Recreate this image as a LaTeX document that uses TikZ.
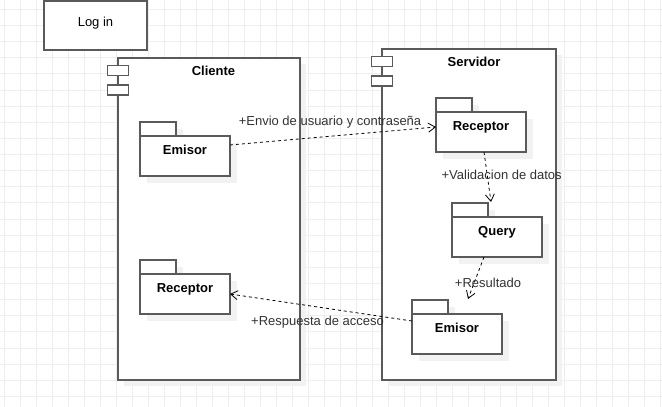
\documentclass[tikz,border=0pt]{standalone}
\usepackage{fontspec}
\setmainfont{Liberation Sans}
\usetikzlibrary{positioning, arrows.meta, shadows}
\definecolor{GridGray}{RGB}{238,238,238}
\definecolor{EdgeGray}{RGB}{90,90,90}
\definecolor{ShadowGray}{RGB}{242,242,242}
\definecolor{TextGray}{RGB}{51,51,51}

\begin{document}
\begin{tikzpicture}[x=1pt,y=1pt,
    gridline/.style={GridGray, line width=0.8pt},
    boxline/.style={draw=EdgeGray, line width=1.4pt, fill=white, inner sep=0pt, outer sep=0pt},
    softshadow/.style={drop shadow={shadow xshift=#1, shadow yshift=-#1, fill=ShadowGray, opacity=1}},
    comp/.style={boxline, softshadow=6pt, anchor=south west},
    compicon/.style={boxline, line width=1.2pt, minimum width=21pt, minimum height=10pt},
    comptitle/.style={font=\bfseries\fontsize{13}{15}\selectfont, text height=9.3pt, text depth=0pt, inner sep=0pt},
    pkgtab/.style={boxline, softshadow=7pt, minimum width=36pt, minimum height=14pt, anchor=south west},
    pkgbody/.style={boxline, softshadow=7pt, minimum width=90pt, minimum height=40pt,
      font=\bfseries\fontsize{13}{15}\selectfont, text height=9.3pt, text depth=12pt},
    msg/.style={dash pattern=on 3pt off 3pt, line width=0.8pt, -{Straight Barb[length=7pt,width=9pt]}},
    msglabel/.style={TextGray, font=\fontsize{13}{15}\selectfont, text height=9.3pt, text depth=0pt, inner sep=0pt}]
  \useasboundingbox (0,0) rectangle (662,407);

  \foreach \k in {0,...,41}
    \draw[gridline] ({4+16*\k},0) -- ({4+16*\k},407);
  \foreach \k in {0,...,24}
    \draw[gridline] (0,{397.7-16.13*\k}) -- (662,{397.7-16.13*\k});

  \node[boxline, minimum width=103pt, minimum height=49pt, anchor=south west,
    font=\fontsize{13}{15}\selectfont, text height=9.3pt, text depth=8pt] (login) at (44,357) {Log in\hspace{9pt}};

  \node[comp, minimum width=182pt, minimum height=322pt] (cliente) at (118,27) {};
  \node[compicon] (clienteIconA) at ([yshift=-12.5pt]cliente.north west) {};
  \node[compicon] (clienteIconB) at ([yshift=-32pt]cliente.north west) {};
  \node[comptitle] (clienteTitle) at ([shift={(4.5pt,-13pt)}]cliente.north) {Cliente};

  \node[comp, minimum width=174pt, minimum height=331pt] (servidor) at (382,27) {};
  \node[compicon] (servidorIconA) at ([yshift=-12.5pt]servidor.north west) {};
  \node[compicon] (servidorIconB) at ([yshift=-32pt]servidor.north west) {};
  \node[comptitle] (servidorTitle) at ([shift={(5pt,-13pt)}]servidor.north) {Servidor};

  \foreach \name/\x/\y/\txt in {emisorC/140/271/Emisor, receptorC/140/133/Receptor,
      receptorS/436/295/Receptor, query/452/190/Query, emisorS/412/93/Emisor}
  {
    \node[pkgtab] (\name-tab) at (\x,\y) {};
    \node[pkgbody, below right=0pt of \name-tab.south west] (\name) {\txt};
  }

  \draw[msg] ([yshift=11pt]emisorC.east) -- ([yshift=5pt]receptorS.west);
  \draw[msg] ([xshift=3pt]receptorS.south) -- ([shift={(-6pt,15pt)}]query.north);
  \draw[msg] ([xshift=-13pt]query.south) -- ([shift={(11pt,15pt)}]emisorS.north);
  \draw[msg] ([yshift=13pt]emisorS.west) -- (receptorC.east);

  \node[msglabel] (envioLabel) at (330,285.7) {+Envio de usuario y contraseña};
  \node[msglabel] (validacionLabel) at (501.7,232.5) {+Validacion de datos};
  \node[msglabel] (resultadoLabel) at (488,123.7) {+Resultado};
  \node[msglabel] (respuestaLabel) at (317.5,86.2) {+Respuesta de acceso};
\end{tikzpicture}
\end{document}
